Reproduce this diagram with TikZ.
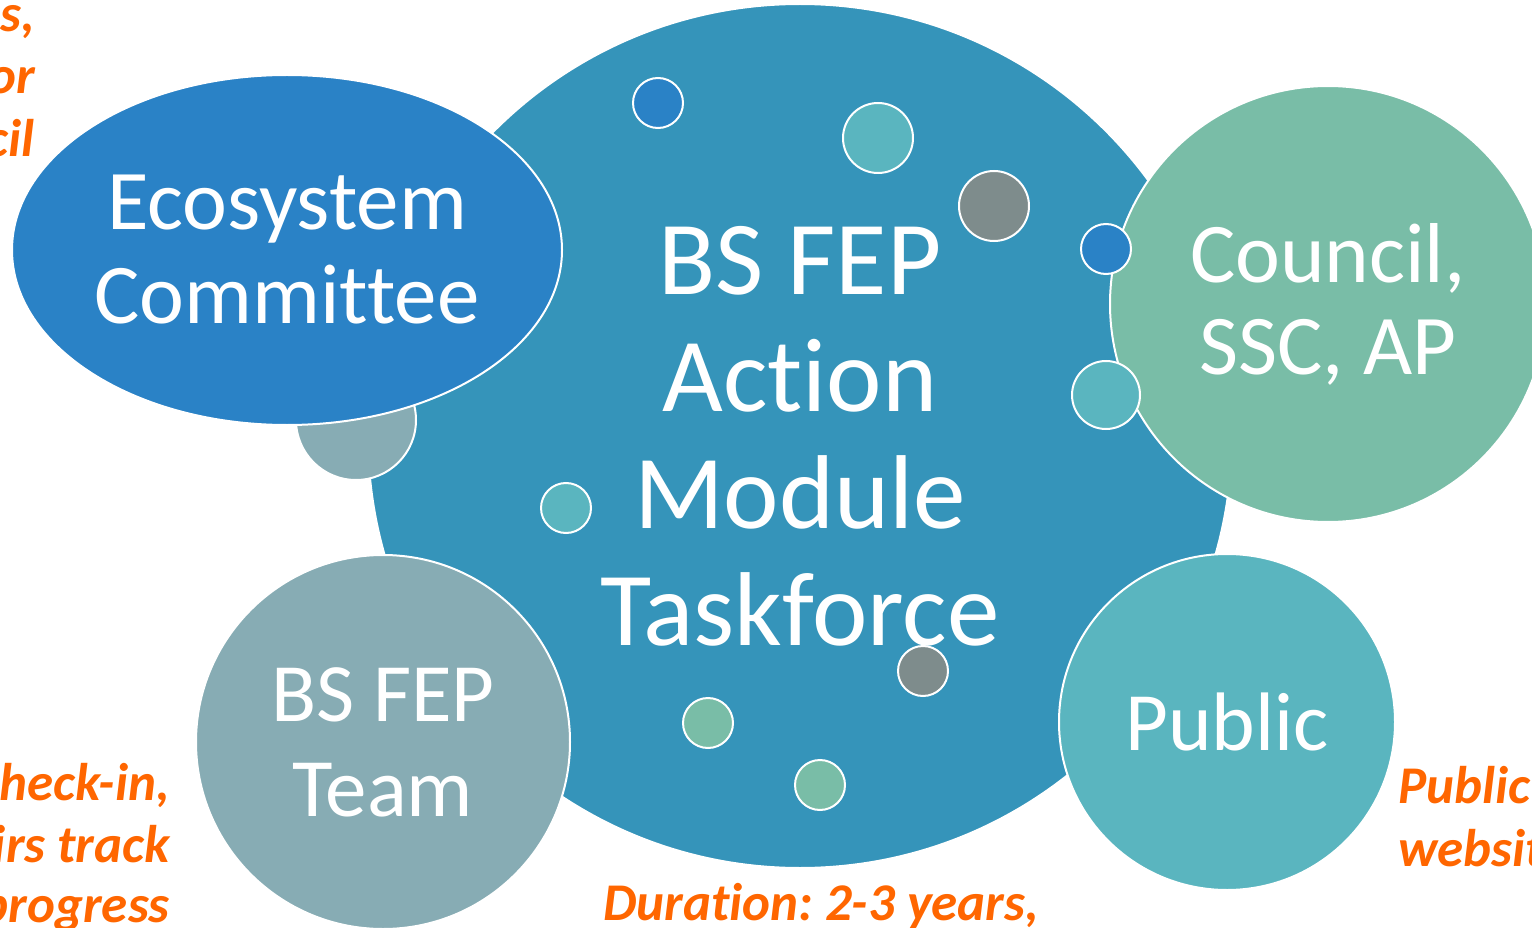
\documentclass[tikz,border=0pt]{standalone}
\usepackage{fontspec}
\setmainfont{Carlito}[Ligatures={NoCommon,NoRequired,NoContextual}]
\usetikzlibrary{shapes.geometric}
\definecolor{bigc}{HTML}{3594BA}
\definecolor{bluec}{HTML}{2A82C6}
\definecolor{tealc}{HTML}{5AB5BF}
\definecolor{greyc}{HTML}{7E8C8C}
\definecolor{greenc}{HTML}{79BDA7}
\definecolor{teamc}{HTML}{87ACB4}
\definecolor{orangetxt}{HTML}{FF6600}
\frenchspacing
\begin{document}
\begin{tikzpicture}[x=1pt,y=-1pt,
  bubble/.style={circle,draw=white,line width=2pt,inner sep=0pt,text=white,align=center},
  dot/.style={circle,draw=white,line width=2pt,inner sep=0pt},
  note/.style={text=orangetxt,font=\fontsize{53}{62}\selectfont\bfseries\itshape,inner sep=0pt}]
\useasboundingbox (0,0) rectangle (1532,928);
% main circle
\node[bubble,fill=bigc,minimum size=864pt,font=\fontsize{105}{117}\selectfont] (task) at (800,436) {BS FEP\\Action\\Module\\Taskforce};
% small grey circle behind ecosystem ellipse
\node[dot,fill=teamc,minimum size=120pt] (g0) at (356,420) {};
% ecosystem
\node[ellipse,draw=white,line width=2pt,inner sep=0pt,fill=bluec,text=white,align=center,
  minimum width=550pt,minimum height=350pt,font=\fontsize{85}{94}\selectfont] (eco) at (287,250) {Ecosystem\\Committee};
% council
\node[bubble,fill=greenc,minimum size=436pt,font=\fontsize{85}{92}\selectfont] (council) at (1328,304) {Council,\\SSC, AP};
% team
\node[bubble,fill=teamc,minimum size=374pt,font=\fontsize{83}{95}\selectfont] (team) at (383,742) {BS FEP\\Team};
% public
\node[bubble,fill=tealc,minimum size=336pt,font=\fontsize{83}{95}\selectfont] (public) at (1227,722) {Public};
% dots
\node[dot,fill=bluec,minimum size=50pt] (d1) at (658,103) {};
\node[dot,fill=tealc,minimum size=70pt] (d2) at (878,138) {};
\node[dot,fill=greyc,minimum size=70pt] (d3) at (994,206) {};
\node[dot,fill=bluec,minimum size=50pt] (d4) at (1106,249) {};
\node[dot,fill=tealc,minimum size=68pt] (d5) at (1106,395) {};
\node[dot,fill=tealc,minimum size=50pt] (d6) at (566,508) {};
\node[dot,fill=greyc,minimum size=50pt] (d7) at (923,671) {};
\node[dot,fill=greenc,minimum size=50pt] (d8) at (708,723) {};
\node[dot,fill=greenc,minimum size=50pt] (d9) at (820,785) {};
% orange notes
\node[note,anchor=base east] (n1) at (35,32) {s,};
\node[note,anchor=base east] (n2) at (35,94) {or};
\node[note,anchor=base east] (n3) at (35,157) {cil};
\node[note,anchor=base east] (n4) at (170,800) {heck-in,};
\node[note,anchor=base east] (n5) at (170,862) {irs track};
\node[note,anchor=base east] (n6) at (170,922) {progress};
\node[note,anchor=base west] (n7) at (1398,803) {Public};
\node[note,anchor=base west] (n8) at (1398,866) {websit};
\node[note,anchor=base west] (n9) at (603,920) {Duration: 2-3 years,};
\end{tikzpicture}
\end{document}
